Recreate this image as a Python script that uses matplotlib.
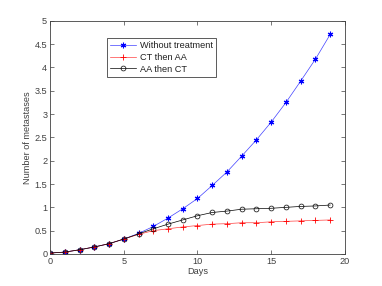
import matplotlib
matplotlib.use("Agg")
import matplotlib.pyplot as plt

days = list(range(20))
without_treatment = [0.02, 0.04, 0.09, 0.15, 0.22, 0.32, 0.44, 0.59, 0.77, 0.97,
                     1.19, 1.47, 1.76, 2.10, 2.45, 2.83, 3.25, 3.71, 4.18, 4.71]
ct_then_aa = [0.02, 0.04, 0.09, 0.15, 0.22, 0.32, 0.42, 0.50, 0.54, 0.58,
              0.61, 0.64, 0.65, 0.67, 0.67, 0.69, 0.70, 0.71, 0.72, 0.73]
aa_then_ct = [0.02, 0.04, 0.09, 0.15, 0.22, 0.32, 0.43, 0.54, 0.64, 0.73,
              0.82, 0.89, 0.92, 0.96, 0.97, 0.98, 1.00, 1.02, 1.03, 1.05]
xticks = [0, 5, 10, 15, 20]
yticks = [0, 0.5, 1, 1.5, 2, 2.5, 3, 3.5, 4, 4.5, 5]
ytick_labels = ['0', '0.5', '1', '1.5', '2', '2.5', '3', '3.5', '4', '4.5', '5']

plt.rcParams['font.family'] = ['Liberation Sans', 'DejaVu Sans']
fs = 6.6
gray = '#404040'

fig = plt.figure(figsize=(3.82, 2.86), dpi=100)
ax = fig.add_axes([0.131, 0.112, 0.772, 0.815])

ax.plot(days, without_treatment, color='#4040ff', lw=0.5, marker=(6, 2, 0), ms=4,
        mec='#0000ff', mfc='#0000ff', mew=0.8, label='Without treatment')
ax.plot(days, ct_then_aa, color='#ff4040', lw=0.5, marker='+', ms=4,
        mec='#ff0000', mew=0.6, label='CT then AA')
ax.plot(days, aa_then_ct, color='black', lw=0.5, marker='o', ms=3.5,
        mfc='none', mec='black', mew=0.5, label='AA then CT')

ax.set_xlim(0, 20)
ax.set_ylim(0, 5)
ax.set_xticks(xticks)
ax.set_yticks(yticks)
ax.set_yticklabels(ytick_labels)
ax.tick_params(direction='in', length=3, width=0.5, colors=gray, labelsize=fs,
               top=True, right=True, pad=2)
for s in ax.spines.values():
    s.set_color(gray)
    s.set_linewidth(0.6)
ax.set_xlabel('Days', fontsize=fs, color=gray, labelpad=1)
ax.set_ylabel('Number of metastases', fontsize=fs, color=gray, labelpad=2)

leg = ax.legend(loc='upper left', bbox_to_anchor=(0.193, 0.927), fontsize=fs,
                frameon=True, fancybox=False, edgecolor=gray, framealpha=1,
                borderpad=0.35, labelspacing=0.3, handlelength=2.8,
                handletextpad=0.4, borderaxespad=0)
leg.get_frame().set_linewidth(0.6)
for t in leg.get_texts():
    t.set_color('#202020')

fig.savefig('out.png', dpi=100)
